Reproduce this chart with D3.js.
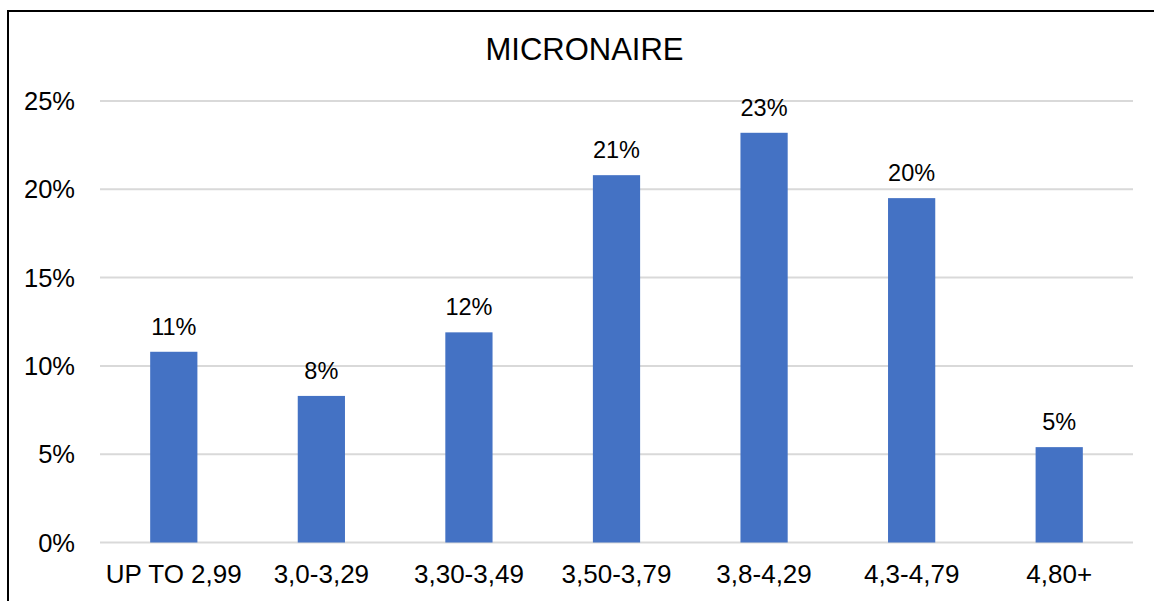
<!DOCTYPE html>
<html>
<head>
<meta charset="utf-8">
<script src="https://cdn.jsdelivr.net/npm/d3@7"></script>
<style>
  html, body { margin: 0; padding: 0; background: #fff; }
  svg { display: block; font-family: "Liberation Sans", Arial, sans-serif; }
</style>
</head>
<body>
<svg id="chart" width="1154" height="601"></svg>
<script>
// Micronaire distribution
const categories = ["UP TO 2,99", "3,0-3,29", "3,30-3,49", "3,50-3,79", "3,8-4,29", "4,3-4,79", "4,80+"];
const shares = [0.108, 0.083, 0.119, 0.208, 0.232, 0.195, 0.054];
const yTicks = [0, 0.05, 0.10, 0.15, 0.20, 0.25];
const title = "MICRONAIRE";

const svg = d3.select("#chart");
const W = 1154, H = 601;
const plot = { left: 100, right: 1133, top: 101, bottom: 542.5 };

// outer frame
svg.append("rect")
  .attr("x", 8).attr("y", 11)
  .attr("width", W + 20).attr("height", H + 20)
  .attr("fill", "#fff").attr("stroke", "#000").attr("stroke-width", 2);

const x = d3.scaleBand().domain(categories)
  .range([plot.left, plot.right]).paddingInner(0.68).paddingOuter(0.34);
const y = d3.scaleLinear().domain([0, 0.25]).range([plot.bottom, plot.top]);
const pct = d3.format(".0%");

// gridlines
svg.append("g").selectAll("line").data(yTicks).join("line")
  .attr("x1", plot.left).attr("x2", plot.right)
  .attr("y1", d => y(d)).attr("y2", d => y(d))
  .attr("stroke", "#d9d9d9").attr("stroke-width", 2);

// y axis labels
const yAxis = svg.append("g").attr("transform", `translate(75,0)`)
  .call(d3.axisLeft(y).tickValues(yTicks).tickFormat(pct).tickSize(0).tickPadding(0));
yAxis.select(".domain").remove();
yAxis.selectAll("text").attr("font-size", 25.5).attr("fill", "#000")
  .attr("dy", null).attr("y", 8.5)
  .attr("font-family", "Liberation Sans, Arial, sans-serif");

// bars
svg.append("g").selectAll("rect").data(categories).join("rect")
  .attr("x", d => x(d)).attr("width", x.bandwidth())
  .attr("y", (d, i) => y(shares[i]))
  .attr("height", (d, i) => y(0) - y(shares[i]))
  .attr("fill", "#4472C4");

// value labels
svg.append("g").selectAll("text").data(categories).join("text")
  .attr("x", d => x(d) + x.bandwidth() / 2)
  .attr("y", (d, i) => y(shares[i]) - 17)
  .attr("text-anchor", "middle").attr("font-size", 23.5).attr("fill", "#000")
  .text((d, i) => pct(shares[i]));

// category axis
const xAxis = svg.append("g").attr("transform", `translate(0,583)`)
  .call(d3.axisBottom(x).tickSize(0).tickPadding(0));
xAxis.select(".domain").remove();
xAxis.selectAll("text").attr("font-size", 26).attr("fill", "#000")
  .attr("dy", null).attr("y", 0)
  .attr("font-family", "Liberation Sans, Arial, sans-serif");

// title
svg.append("text")
  .attr("x", 584.5).attr("y", 59.5)
  .attr("text-anchor", "middle").attr("font-size", 31).attr("fill", "#000")
  .text(title);
</script>
</body>
</html>
